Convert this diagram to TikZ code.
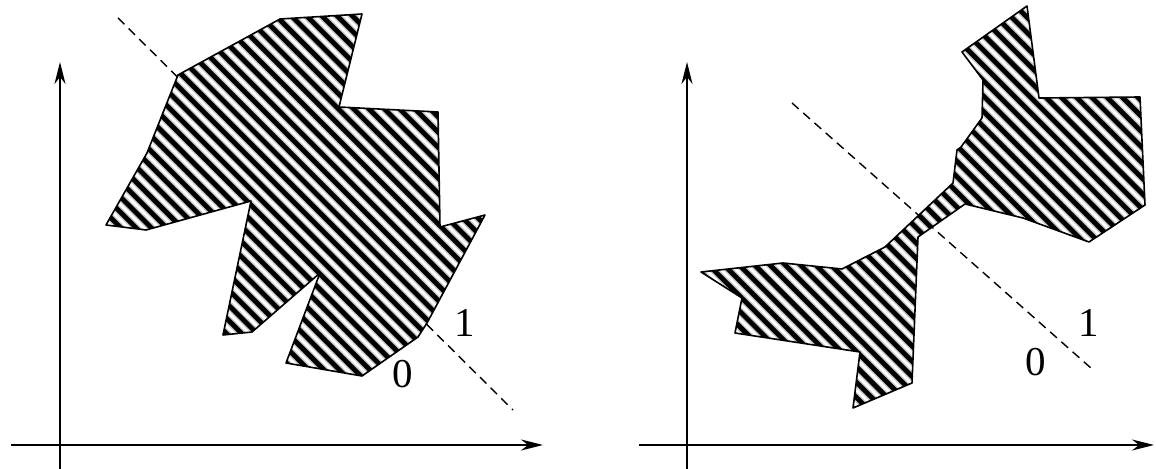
\documentclass[tikz,border=0pt]{standalone}
\usepackage{fontspec}
\setmainfont{Liberation Serif}
\usepackage{tikz}
\usetikzlibrary{arrows.meta}

% the two shaded regions
\newcommand\regionL{(178,75) -- (280,19) -- (362,14) -- (339,107) -- (438,112)
    -- (440,227) -- (485,215) -- (427,323) -- (418,337) -- (362,376)
    -- (286,363) -- (320,273) -- (252,332) -- (223,335) -- (251,201)
    -- (146,230) -- (106,225) -- (147,153) -- cycle}
\newcommand\regionR{(1027,6) -- (1039,98) -- (1140,97) -- (1145,205) -- (1089,242)
    -- (1023,218) -- (965,204) -- (918,237) -- (912,383) -- (853,408)
    -- (860,352) -- (735,333) -- (742,298) -- (701,272) -- (783,263)
    -- (842,269) -- (885,247) -- (953,183) -- (957,150) -- (961,147)
    -- (982,118) -- (983,80) -- (962,52) -- cycle}

\begin{document}
\begin{tikzpicture}[
    x=0.5pt, y=-0.5pt,
    axis/.style={line width=1.1pt, -{Stealth[length=11pt, width=5.5pt, inset=3.5pt]}},
    cut/.style={line width=0.7pt, dash pattern=on 4.5pt off 3pt},
    stripe/.style={line width=2.4pt, preaction={draw, gray!45, line width=3.8pt}},
    outline/.style={line width=0.8pt, line join=round},
    lbl/.style={inner sep=0pt, font=\fontsize{20.5}{24}\selectfont}
  ]
  \useasboundingbox (0,0) rectangle (1156,469);

  % Left panel: axes and separating line
  \draw[axis] (11,445) -- (543,445);
  \draw[axis] (60,469) -- (60,62);
  \draw[cut] (118,18) -- (513,410);
  % Left panel: hatched region
  \begin{scope}
    \clip \regionL;
    \fill[white] \regionL;
    \foreach \k in {-25,...,40}
      \draw[stripe] (\k*15.3,0) -- ++(500,500);
  \end{scope}
  \draw[outline] \regionL;
  \node[lbl] (oneL) at (465,323) {1};
  \node[lbl] (zeroL) at (403,374) {0};

  % Right panel: axes and separating line
  \draw[axis] (639,445) -- (1154,445);
  \draw[axis] (687,469) -- (687,62);
  \draw[cut] (792,103) -- (1092,369);
  % Right panel: hatched region
  \begin{scope}
    \clip \regionR;
    \fill[white] \regionR;
    \foreach \k in {15,...,80}
      \draw[stripe] (\k*15.3,0) -- ++(500,500);
  \end{scope}
  \draw[outline] \regionR;
  \node[lbl] (oneR) at (1089,323) {1};
  \node[lbl] (zeroR) at (1036,362) {0};
\end{tikzpicture}
\end{document}
